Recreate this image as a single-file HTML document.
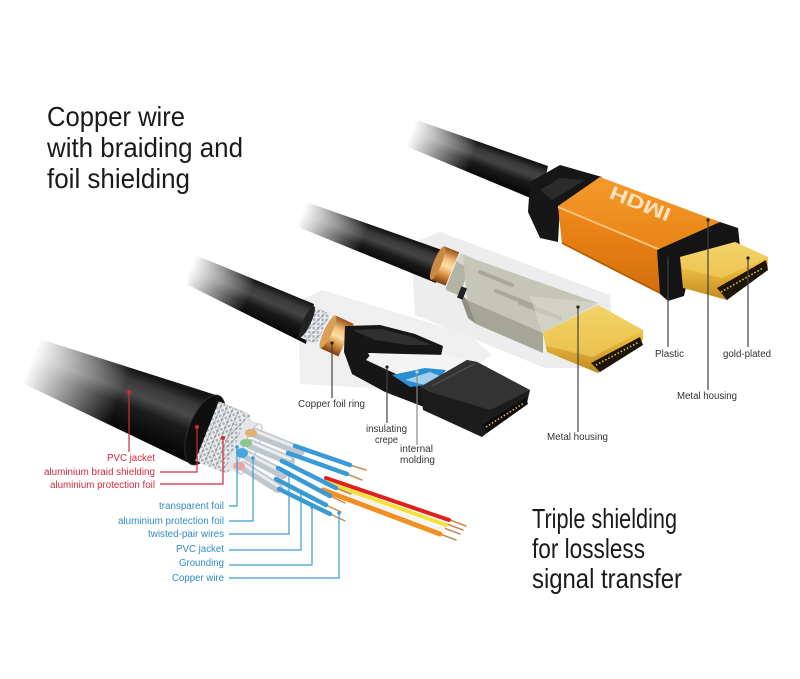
<!DOCTYPE html>
<html><head><meta charset="utf-8"><style>
html,body{margin:0;padding:0;background:#fff;}
svg{display:block;}
text{font-family:"Liberation Sans",Arial,sans-serif;}
</style></head><body>
<svg width="800" height="679" viewBox="0 0 800 679" xmlns="http://www.w3.org/2000/svg">
<defs>
 <filter id="bl" x="-20%" y="-50%" width="140%" height="200%"><feGaussianBlur stdDeviation="3"/></filter>
 <linearGradient id="fd1" gradientUnits="userSpaceOnUse" x1="35" y1="350" x2="125" y2="386"><stop offset="0" stop-color="#000"/><stop offset="1" stop-color="#fff"/></linearGradient>
 <linearGradient id="fd2" gradientUnits="userSpaceOnUse" x1="192" y1="264" x2="252" y2="290"><stop offset="0" stop-color="#000"/><stop offset="1" stop-color="#fff"/></linearGradient>
 <linearGradient id="fd3" gradientUnits="userSpaceOnUse" x1="302" y1="212" x2="365" y2="236"><stop offset="0" stop-color="#000"/><stop offset="1" stop-color="#fff"/></linearGradient>
 <linearGradient id="fd4" gradientUnits="userSpaceOnUse" x1="412" y1="130" x2="475" y2="153"><stop offset="0" stop-color="#000"/><stop offset="1" stop-color="#fff"/></linearGradient>
 <mask id="m1" maskUnits="userSpaceOnUse" x="0" y="0" width="800" height="679"><rect width="800" height="679" fill="url(#fd1)"/></mask>
 <mask id="m2" maskUnits="userSpaceOnUse" x="0" y="0" width="800" height="679"><rect width="800" height="679" fill="url(#fd2)"/></mask>
 <mask id="m3" maskUnits="userSpaceOnUse" x="0" y="0" width="800" height="679"><rect width="800" height="679" fill="url(#fd3)"/></mask>
 <mask id="m4" maskUnits="userSpaceOnUse" x="0" y="0" width="800" height="679"><rect width="800" height="679" fill="url(#fd4)"/></mask>
 <linearGradient id="c1" gradientUnits="userSpaceOnUse" x1="125" y1="366" x2="103" y2="422"><stop offset="0" stop-color="#151515"/><stop offset="0.18" stop-color="#3a3a3a"/><stop offset="0.38" stop-color="#4a4a4a"/><stop offset="0.6" stop-color="#1c1c1c"/><stop offset="1" stop-color="#080808"/></linearGradient>
 <linearGradient id="c2" gradientUnits="userSpaceOnUse" x1="262" y1="283" x2="248" y2="317"><stop offset="0" stop-color="#151515"/><stop offset="0.2" stop-color="#3a3a3a"/><stop offset="0.4" stop-color="#454545"/><stop offset="0.65" stop-color="#1a1a1a"/><stop offset="1" stop-color="#080808"/></linearGradient>
 <linearGradient id="c3" gradientUnits="userSpaceOnUse" x1="380" y1="229" x2="369" y2="259"><stop offset="0" stop-color="#151515"/><stop offset="0.2" stop-color="#3a3a3a"/><stop offset="0.4" stop-color="#454545"/><stop offset="0.65" stop-color="#1a1a1a"/><stop offset="1" stop-color="#080808"/></linearGradient>
 <linearGradient id="c4" gradientUnits="userSpaceOnUse" x1="480" y1="143" x2="469" y2="173"><stop offset="0" stop-color="#151515"/><stop offset="0.2" stop-color="#3a3a3a"/><stop offset="0.4" stop-color="#454545"/><stop offset="0.65" stop-color="#1a1a1a"/><stop offset="1" stop-color="#080808"/></linearGradient>
 <linearGradient id="cu" x1="0" y1="0" x2="0" y2="1"><stop offset="0" stop-color="#9a4f16"/><stop offset="0.3" stop-color="#f2c07a"/><stop offset="0.5" stop-color="#fbe0a8"/><stop offset="0.75" stop-color="#d88c3a"/><stop offset="1" stop-color="#7a3c10"/></linearGradient>
 <linearGradient id="gold" x1="0" y1="0" x2="0" y2="1"><stop offset="0" stop-color="#f8dd7a"/><stop offset="0.5" stop-color="#e9b83c"/><stop offset="1" stop-color="#c08a22"/></linearGradient>
 <linearGradient id="org" x1="0" y1="0" x2="0" y2="1"><stop offset="0" stop-color="#f59a2a"/><stop offset="1" stop-color="#e88416"/></linearGradient>
 <linearGradient id="orgf" x1="0" y1="0" x2="0" y2="1"><stop offset="0" stop-color="#f08a1a"/><stop offset="1" stop-color="#d46e0a"/></linearGradient>
 <pattern id="braid" width="6" height="6" patternUnits="userSpaceOnUse" patternTransform="rotate(22)">
  <rect width="6" height="6" fill="#aeb3b8"/>
  <path d="M0,0 L6,6 M6,0 L0,6" stroke="#eef0f2" stroke-width="1.6"/>
  <path d="M3,0 L3,6" stroke="#868b91" stroke-width="0.6"/>
 </pattern>
</defs>
<rect width="800" height="679" fill="#fff"/>

<!-- light panels -->
<polygon points="420,240 440,232 610,295 615,360 600,368 545,368 415,315 412,260" fill="#ededed"/>
<polygon points="298,302 322,290 470,335 492,355 440,392 300,384" fill="#efefef"/>

<!-- cables -->
<g mask="url(#m4)"><polygon points="408,117 548,166 540,202 408,147" fill="url(#c4)"/></g>
<g mask="url(#m3)"><polygon points="298,199 442,250 436,283 298,227" fill="url(#c3)"/></g>
<g mask="url(#m2)"><polygon points="188,252 314,304 306,344 188,285" fill="url(#c2)"/></g>
<g mask="url(#m1)"><polygon points="18,332 219,396 191,464 18,381" fill="url(#c1)"/></g>

<!-- ===== Top HDMI (orange) ===== -->
<polygon points="530,182 560,165 602,177 560,206 558,242 540,238 528,212" fill="#161616"/>
<polygon points="540,190 560,178 585,180 552,200" fill="#3a3a3a" opacity="0.6"/>
<polygon points="558,206 600,177 720,222 663,250" fill="url(#org)"/>
<polygon points="558,206 663,250 660,294 562,244" fill="url(#orgf)"/>
<polyline points="558,207 663,251" stroke="#f9c27a" stroke-width="2" fill="none"/>
<polyline points="562,243 660,293" stroke="#b05a08" stroke-width="1.5" fill="none"/>
<text transform="translate(640,204) rotate(22) scale(1,-1)" text-anchor="middle" font-size="19" font-weight="bold" fill="#fde2c0" textLength="64" lengthAdjust="spacingAndGlyphs" y="7">HDMI</text>
<polygon points="657,250 720,222 738,228 740,246 690,270 684,296 668,301 660,294" fill="#141414"/>
<polygon points="680,257 735,242 768,257 768,268 727,300 683,288" fill="url(#gold)"/>
<polygon points="680,257 735,242 768,257 722,278 682,268" fill="#f1cf63" opacity="0.7"/>
<polygon points="717,288 766,260 768,270 727,300" fill="#1c1508"/>
<line x1="721" y1="292" x2="763" y2="268" stroke="#e8c050" stroke-width="1.6" stroke-dasharray="1.5 2"/>

<!-- ===== Middle HDMI (grey) ===== -->
<g transform="translate(445,266) rotate(22)">
 <rect x="-8" y="-18" width="16" height="36" fill="url(#cu)"/>
 <ellipse cx="-8" cy="0" rx="4" ry="18" fill="#c98a45"/>
</g>
<g transform="translate(459,274) rotate(22)">
 <rect x="-7" y="-20" width="15" height="40" rx="3" fill="#b4b4a6"/>
 <rect x="-7" y="-20" width="15" height="10" rx="3" fill="#d6d6cb"/>
</g>
<polygon points="463,255 598,303 543,333 467,300" fill="#c6c6b8"/>
<polygon points="467,300 543,333 543,353 476,324" fill="#a5a598"/>
<polygon points="458,290 467,300 476,324 468,318" fill="#8e8e82"/>
<rect x="459" y="287" width="6" height="12" fill="#222" transform="rotate(22 462 293)"/>
<g stroke="#a9a99a" stroke-width="4" stroke-linecap="round">
 <line x1="480" y1="272" x2="512" y2="285"/>
 <line x1="496" y1="291" x2="534" y2="306"/>
 <line x1="520" y1="303" x2="560" y2="318"/>
</g>
<polygon points="530,296 598,303 600,310 543,336" fill="#d8d8cc" opacity="0.6"/>
<polygon points="543,333 598,305 643,330 643,340 598,373 547,352" fill="url(#gold)"/>
<polygon points="543,333 598,305 643,330 593,357 546,346" fill="#f1cf63" opacity="0.7"/>
<polygon points="591,363 640,337 643,345 600,372" fill="#1c1508"/>
<line x1="596" y1="365" x2="639" y2="342" stroke="#e8c050" stroke-width="1.6" stroke-dasharray="1.5 2"/>

<!-- ===== Black molded HDMI ===== -->
<g transform="translate(316,326) rotate(25)">
 <rect x="-10" y="-17" width="18" height="34" fill="url(#braid)"/>
 <ellipse cx="-10" cy="0" rx="4" ry="17" fill="#222"/>
</g>
<g transform="translate(337,336) rotate(25)">
 <rect x="-10" y="-18" width="20" height="36" fill="url(#cu)"/>
 <ellipse cx="-10" cy="0" rx="4" ry="18" fill="#d9a05a"/>
</g>
<path d="M345,326 L380,325 L415,334 L443,346 L441,356 L410,357 L372,353 L366,360 L396,374 L432,387 L424,407 L385,392 L352,374 L344,352 Z" fill="#161616"/>
<path d="M352,330 L382,329 L412,337 L432,345 L408,345 L375,340 Z" fill="#3c3c3c" opacity="0.7"/>
<polygon points="368,353 405,354 446,355 470,360 440,378 400,375 374,363" fill="#f4f4f4"/>
<polygon points="392,375 425,368 446,370 436,384 410,387" fill="#2a8fd0"/>
<polygon points="405,380 430,372 440,376 425,385" fill="#9fd0f0"/>
<polygon points="420,387 467,360 477,362 530,390 527,403 487,433 482,437 423,410" fill="#1c1c1c"/>
<polygon points="420,387 467,360 477,362 530,390 490,410 430,392" fill="#333"/>
<line x1="432" y1="386" x2="474" y2="364" stroke="#555" stroke-width="1"/>
<polygon points="482,425 526,398 528,404 487,433" fill="#0c0c0c"/>
<line x1="486" y1="427" x2="524" y2="403" stroke="#e0b84a" stroke-width="1.6" stroke-dasharray="1.5 2"/>

<!-- ===== Cable 1 breakout ===== -->
<!-- colored wires -->
<g stroke-linecap="round">
 <line x1="440" y1="534" x2="456" y2="540" stroke="#c98b55" stroke-width="1.5"/>
 <line x1="444" y1="528" x2="460" y2="534" stroke="#c98b55" stroke-width="1.5"/>
 <line x1="447" y1="524" x2="463" y2="530" stroke="#c98b55" stroke-width="1.5"/>
 <line x1="450" y1="520" x2="466" y2="526" stroke="#c98b55" stroke-width="1.5"/>
 <line x1="326" y1="478" x2="449" y2="520" stroke="#e0201e" stroke-width="4"/>
 <line x1="326" y1="482" x2="446" y2="525" stroke="#f7e03a" stroke-width="4"/>
 <line x1="325" y1="486" x2="443" y2="529" stroke="#f4f4f4" stroke-width="4"/>
 <line x1="323" y1="490" x2="440" y2="534" stroke="#f39024" stroke-width="5"/>
</g>
<!-- jacket end -->
<ellipse cx="205" cy="430" rx="16" ry="37" transform="rotate(22 205 430)" fill="#0e0e0e" stroke="#2a2a2a"/>
<polygon points="218.8,401.2 247.8,413.2 224.2,472.8 195.2,460.8" fill="url(#braid)"/>
<ellipse cx="236" cy="443" rx="9" ry="32" transform="rotate(22 236 443)" fill="url(#braid)"/>
<polygon points="246,417.9 260,423.9 240,474.1 226,468.1" fill="#e3e6e9"/>
<ellipse cx="250" cy="449" rx="7" ry="27" transform="rotate(22 250 449)" fill="#f4f5f6" stroke="#b8bec4"/>
<!-- sheathed tubes -->
<g stroke-linecap="round">
 <line x1="255" y1="433" x2="300" y2="451" stroke="#bfc6ce" stroke-width="10"/>
 <line x1="255" y1="431" x2="300" y2="449" stroke="#e9edf0" stroke-width="3"/>
 <line x1="250" y1="444" x2="290" y2="461" stroke="#bfc6ce" stroke-width="10"/>
 <line x1="250" y1="442" x2="290" y2="459" stroke="#e9edf0" stroke-width="3"/>
 <line x1="246" y1="455" x2="283" y2="474" stroke="#bfc6ce" stroke-width="10"/>
 <line x1="246" y1="453" x2="283" y2="472" stroke="#e9edf0" stroke-width="3"/>
 <line x1="243" y1="466" x2="278" y2="488" stroke="#bfc6ce" stroke-width="10"/>
 <line x1="243" y1="464" x2="278" y2="486" stroke="#e9edf0" stroke-width="3"/>
</g>
<ellipse cx="251" cy="433" rx="6" ry="4" fill="#e2b070"/>
<ellipse cx="246" cy="443" rx="6" ry="4" fill="#8cc68c"/>
<ellipse cx="242" cy="453" rx="6" ry="5" fill="#4aa6de"/>
<ellipse cx="239" cy="466" rx="6" ry="4" fill="#f0a6a0"/>
<!-- blue wires -->
<g stroke-linecap="round">
 <g stroke="#c98b55" stroke-width="1.5">
  <line x1="350" y1="465" x2="366" y2="470"/>
  <line x1="347" y1="474" x2="362" y2="480"/>
  <line x1="336" y1="488" x2="351" y2="494"/>
  <line x1="330" y1="496" x2="345" y2="503"/>
  <line x1="326" y1="505" x2="341" y2="512"/>
  <line x1="330" y1="514" x2="345" y2="521"/>
 </g>
 <g stroke="#3a9ad6" stroke-width="4.5">
  <line x1="295" y1="446" x2="350" y2="465"/>
  <line x1="288" y1="453" x2="347" y2="474"/>
  <line x1="282" y1="461" x2="336" y2="488"/>
  <line x1="278" y1="468" x2="330" y2="496"/>
  <line x1="276" y1="479" x2="326" y2="505"/>
  <line x1="279" y1="489" x2="330" y2="514"/>
 </g>
</g>

<!-- ===== leader lines ===== -->
<g fill="none" stroke-width="1.2">
 <polyline points="129,392 129,452" stroke="#d42a3c"/>
 <polyline points="197,427 197,472 160,472" stroke="#d42a3c"/>
 <polyline points="223,438 223,484 160,484" stroke="#d42a3c"/>
 <polyline points="237,447 237,506 229,506" stroke="#3b9bcf"/>
 <polyline points="253,458 253,521 229,521" stroke="#3b9bcf"/>
 <polyline points="289,473 289,534 229,534" stroke="#3b9bcf"/>
 <polyline points="301,493 301,550 229,550" stroke="#3b9bcf"/>
 <polyline points="312,507 312,565 229,565" stroke="#3b9bcf"/>
 <polyline points="339,513 339,578 229,578" stroke="#3b9bcf"/>
 <line x1="332" y1="343" x2="332" y2="398" stroke="#444"/>
 <line x1="387" y1="367" x2="387" y2="423" stroke="#444"/>
 <line x1="417" y1="372" x2="417" y2="445" stroke="#888"/>
 <line x1="578" y1="307" x2="578" y2="432" stroke="#444"/>
 <line x1="668" y1="257" x2="668" y2="347" stroke="#444"/>
 <line x1="708" y1="220" x2="708" y2="390" stroke="#444"/>
 <line x1="748" y1="258" x2="748" y2="347" stroke="#444"/>
</g>
<g fill="#d42a3c"><circle cx="129" cy="392" r="2"/><circle cx="197" cy="427" r="2"/><circle cx="223" cy="438" r="2"/></g>
<g fill="#3b9bcf"><circle cx="237" cy="447" r="1.8"/><circle cx="253" cy="458" r="1.8"/><circle cx="289" cy="473" r="1.8"/><circle cx="301" cy="493" r="1.8"/><circle cx="312" cy="507" r="1.8"/><circle cx="339" cy="513" r="1.8"/></g>
<g fill="#222"><circle cx="332" cy="343" r="1.6"/><circle cx="387" cy="367" r="1.6"/><circle cx="578" cy="307" r="1.6"/><circle cx="668" cy="257" r="1.6"/><circle cx="708" cy="220" r="1.6"/><circle cx="748" cy="258" r="1.6"/></g>
<circle cx="417" cy="372" r="1.6" fill="#ccc"/>

<!-- ===== headings ===== -->
<g font-size="28" fill="#1a1a1a">
 <text x="47" y="126" textLength="138" lengthAdjust="spacingAndGlyphs">Copper wire</text>
 <text x="47" y="157" textLength="196" lengthAdjust="spacingAndGlyphs">with braiding and</text>
 <text x="47" y="188" textLength="143" lengthAdjust="spacingAndGlyphs">foil shielding</text>
 <text x="532" y="528" textLength="145" lengthAdjust="spacingAndGlyphs">Triple shielding</text>
 <text x="532" y="558" textLength="113" lengthAdjust="spacingAndGlyphs">for lossless</text>
 <text x="532" y="588" textLength="150" lengthAdjust="spacingAndGlyphs">signal transfer</text>
</g>

<!-- ===== small labels ===== -->
<g font-size="10" fill="#d42a3c">
 <text x="107" y="461" textLength="48" lengthAdjust="spacingAndGlyphs">PVC jacket</text>
 <text x="44" y="475" textLength="111" lengthAdjust="spacingAndGlyphs">aluminium braid shielding</text>
 <text x="50" y="488" textLength="105" lengthAdjust="spacingAndGlyphs">aluminium protection foil</text>
</g>
<g font-size="10" fill="#2f8cc6">
 <text x="159" y="509" textLength="65" lengthAdjust="spacingAndGlyphs">transparent foil</text>
 <text x="118" y="524" textLength="106" lengthAdjust="spacingAndGlyphs">aluminium protection foil</text>
 <text x="148" y="537" textLength="76" lengthAdjust="spacingAndGlyphs">twisted-pair wires</text>
 <text x="176" y="552" textLength="48" lengthAdjust="spacingAndGlyphs">PVC jacket</text>
 <text x="179" y="566" textLength="45" lengthAdjust="spacingAndGlyphs">Grounding</text>
 <text x="172" y="581" textLength="52" lengthAdjust="spacingAndGlyphs">Copper wire</text>
</g>
<g font-size="10" fill="#333">
 <text x="298" y="407" textLength="67" lengthAdjust="spacingAndGlyphs">Copper foil ring</text>
 <text x="366" y="432" textLength="41" lengthAdjust="spacingAndGlyphs">insulating</text>
 <text x="375" y="443" textLength="23" lengthAdjust="spacingAndGlyphs">crepe</text>
 <text x="400" y="452" textLength="33" lengthAdjust="spacingAndGlyphs">internal</text>
 <text x="400" y="463" textLength="35" lengthAdjust="spacingAndGlyphs">molding</text>
 <text x="547" y="440" textLength="61" lengthAdjust="spacingAndGlyphs">Metal housing</text>
 <text x="655" y="357" textLength="29" lengthAdjust="spacingAndGlyphs">Plastic</text>
 <text x="723" y="357" textLength="48" lengthAdjust="spacingAndGlyphs">gold-plated</text>
 <text x="677" y="399" textLength="60" lengthAdjust="spacingAndGlyphs">Metal housing</text>
</g>
</svg>
</body></html>
